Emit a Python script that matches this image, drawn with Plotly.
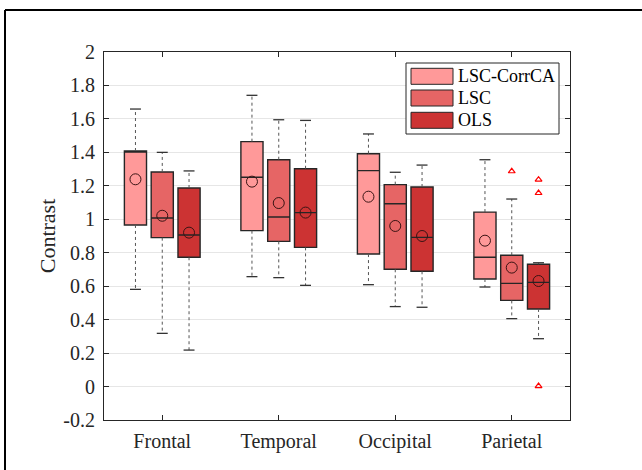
import plotly.graph_objects as go

# ---------------- data ----------------
categories = ["Frontal", "Temporal", "Occipital", "Parietal"]
methods = ["LSC-CorrCA", "LSC", "OLS"]
colors = ["#FF9999", "#E66565", "#CC3333"]

upper = {
    "LSC-CorrCA": [1.659, 1.741, 1.510, 1.356],
    "LSC":        [1.400, 1.595, 1.281, 1.121],
    "OLS":        [1.289, 1.591, 1.324, 0.740],
}
q3 = {
    "LSC-CorrCA": [1.408, 1.464, 1.392, 1.043],
    "LSC":        [1.283, 1.356, 1.207, 0.785],
    "OLS":        [1.187, 1.302, 1.193, 0.731],
}
median = {
    "LSC-CorrCA": [1.402, 1.251, 1.291, 0.773],
    "LSC":        [1.008, 1.014, 1.093, 0.617],
    "OLS":        [0.906, 1.040, 0.892, 0.623],
}
q1 = {
    "LSC-CorrCA": [0.966, 0.932, 0.792, 0.643],
    "LSC":        [0.890, 0.868, 0.701, 0.515],
    "OLS":        [0.773, 0.832, 0.689, 0.464],
}
lower = {
    "LSC-CorrCA": [0.581, 0.657, 0.609, 0.595],
    "LSC":        [0.318, 0.651, 0.478, 0.406],
    "OLS":        [0.218, 0.605, 0.474, 0.286],
}
means = {
    "LSC-CorrCA": [1.239, 1.225, 1.135, 0.872],
    "LSC":        [1.021, 1.097, 0.960, 0.711],
    "OLS":        [0.920, 1.040, 0.900, 0.631],
}
# outliers: (category index, value)
outliers = {
    "LSC-CorrCA": [],
    "LSC":        [(3, 1.287)],
    "OLS":        [(3, 1.237), (3, 1.157), (3, 0.003)],
}
ytick_vals = [-0.2, 0, 0.2, 0.4, 0.6, 0.8, 1, 1.2, 1.4, 1.6, 1.8, 2]
ytick_text = ["-0.2", "0", "0.2", "0.4", "0.6", "0.8", "1", "1.2", "1.4", "1.6", "1.8", "2"]

# ---------------- layout helpers ----------------
W, H = 642, 470
L, R, T, B = 104, 570, 52, 420
offsets = [-0.23, 0.0, 0.23]
box_w = 0.19
cap_hw = 0.047
FONT = "Liberation Serif"

def px2x(px):
    return (px - L) / (R - L)

def px2y(py):
    return (B - py) / (B - T)

fig = go.Figure()

for mi, m in enumerate(methods):
    pos = [i + 1 + offsets[mi] for i in range(len(categories))]
    wx, wy = [], []
    cx, cy = [], []
    for i, p in enumerate(pos):
        wx += [p, p, None, p, p, None]
        wy += [q3[m][i], upper[m][i], None, q1[m][i], lower[m][i], None]
        cx += [p - cap_hw, p + cap_hw, None, p - cap_hw, p + cap_hw, None]
        cy += [upper[m][i], upper[m][i], None, lower[m][i], lower[m][i], None]
    fig.add_trace(go.Scatter(x=wx, y=wy, mode="lines",
                             line=dict(color="#555555", width=1, dash="dot"),
                             hoverinfo="skip", showlegend=False))
    fig.add_trace(go.Scatter(x=cx, y=cy, mode="lines",
                             line=dict(color="#333333", width=1.3),
                             hoverinfo="skip", showlegend=False))
    fig.add_trace(go.Box(
        x=pos, q1=q1[m], median=median[m], q3=q3[m],
        lowerfence=q1[m], upperfence=q3[m],
        width=box_w, whiskerwidth=0, boxpoints=False,
        fillcolor=colors[mi], line=dict(color="#262626", width=1.4),
        name=m, showlegend=False,
    ))
    fig.add_trace(go.Scatter(x=pos, y=means[m], mode="markers",
                             marker=dict(symbol="circle-open", size=11,
                                         color="#3a1414", line=dict(width=1)),
                             showlegend=False))
    if outliers[m]:
        fig.add_trace(go.Scatter(
            x=[ci + 1 + offsets[mi] for ci, _ in outliers[m]],
            y=[v for _, v in outliers[m]], mode="markers",
            marker=dict(symbol="triangle-up-open", size=6, color="#FF0000",
                        line=dict(width=1.2)),
            showlegend=False))

# ---------------- manual legend ----------------
shapes = []
annotations = []
shapes.append(dict(type="rect", xref="paper", yref="paper",
                   x0=px2x(406), x1=px2x(559), y0=px2y(134), y1=px2y(63),
                   fillcolor="white", line=dict(color="#262626", width=1)))
row_centers = [76.3, 98.0, 120.3]
for mi, m in enumerate(methods):
    yc = row_centers[mi]
    shapes.append(dict(type="rect", xref="paper", yref="paper",
                       x0=px2x(411), x1=px2x(453), y0=px2y(yc + 8), y1=px2y(yc - 8),
                       fillcolor=colors[mi], line=dict(color="#262626", width=1)))
    annotations.append(dict(text=m, xref="paper", yref="paper",
                            x=px2x(456), y=px2y(yc), xanchor="left", yanchor="middle",
                            showarrow=False, font=dict(family=FONT, size=18, color="black")))

# figure border
shapes.append(dict(type="line", xref="paper", yref="paper",
                   x0=px2x(5), x1=px2x(660), y0=px2y(10), y1=px2y(10),
                   line=dict(color="black", width=2)))
shapes.append(dict(type="line", xref="paper", yref="paper",
                   x0=px2x(5), x1=px2x(5), y0=px2y(10), y1=px2y(490),
                   line=dict(color="black", width=2)))

fig.update_layout(
    width=W, height=H,
    margin=dict(l=L, r=W - R, t=T, b=H - B),
    paper_bgcolor="white", plot_bgcolor="white",
    font=dict(family=FONT, size=20, color="#262626"),
    shapes=shapes, annotations=annotations,
    showlegend=False,
)
fig.update_xaxes(
    range=[0.5, 4.5], tickvals=[1, 2, 3, 4], ticktext=categories,
    showgrid=False, zeroline=False,
    showline=True, mirror="ticks", linecolor="#262626", linewidth=1,
    ticks="inside", ticklen=5, tickcolor="#262626",
    tickfont=dict(family=FONT, size=20, color="#262626"),
    ticklabelstandoff=3,
)
fig.update_yaxes(
    range=[-0.2, 2], tickvals=ytick_vals, ticktext=ytick_text,
    showgrid=True, gridcolor="#e6e6e6", gridwidth=1, zeroline=False,
    showline=True, mirror="ticks", linecolor="#262626", linewidth=1,
    ticks="inside", ticklen=5, tickcolor="#262626",
    tickfont=dict(family=FONT, size=20, color="#262626"),
    ticklabelstandoff=4,
    title=dict(text="Contrast", font=dict(family=FONT, size=22, color="#262626"),
               standoff=1),
)

fig.write_html("out.html",
               config={"displayModeBar": False},
               post_script="document.body.style.margin='0';document.body.style.overflow='hidden';")
